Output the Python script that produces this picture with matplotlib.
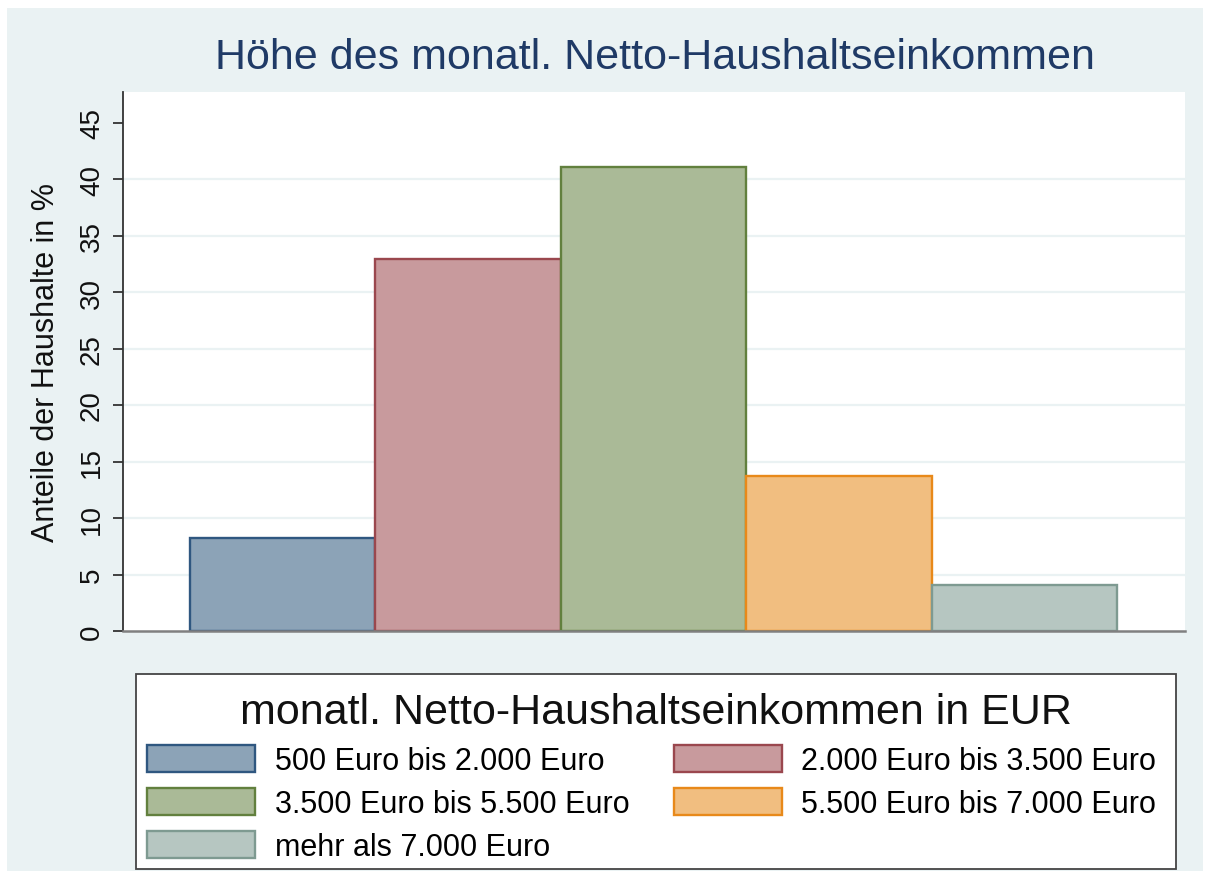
import matplotlib
matplotlib.use('Agg')
import matplotlib.pyplot as plt
from matplotlib.patches import Rectangle, Patch

plt.rcParams['font.family'] = ['Liberation Sans', 'DejaVu Sans']

# ── Data ──────────────────────────────────────────────────────────────────────
categories = [
    "500 Euro bis 2.000 Euro",
    "2.000 Euro bis 3.500 Euro",
    "3.500 Euro bis 5.500 Euro",
    "5.500 Euro bis 7.000 Euro",
    "mehr als 7.000 Euro",
]
shares = [8.2, 32.9, 41.1, 13.7, 4.1]   # Anteile der Haushalte in %
y_ticks = [0, 5, 10, 15, 20, 25, 30, 35, 40, 45]

# Stata s2color palette: edges full colour, fills at 50 % intensity
edge_colors = ['#2F5780', '#9A474E', '#62803E', '#E8891A', '#7E9A91']
fill_colors = ['#8CA3B7', '#C89A9D', '#AABA97', '#F1BE80', '#B6C6C1']
BG = '#EAF2F3'

W, H = 1206, 878
fig = plt.figure(figsize=(W / 100, H / 100), dpi=100, facecolor='white')
fig.patches.append(Rectangle((7 / W, 6 / H), 1196 / W, 863 / H,
                             transform=fig.transFigure, facecolor=BG,
                             edgecolor='none', zorder=-5))

ax = fig.add_axes([123 / W, 1 - 632 / H, 1062 / W, 539 / H])
ax.set_facecolor('white')

xs = list(range(len(shares)))
ax.bar(xs, shares, width=1.0, color=fill_colors, edgecolor=edge_colors,
       linewidth=1.7, zorder=3)

# grid lines (Stata leaves out the extreme ticks)
for yv in y_ticks[1:-1]:
    ax.axhline(yv, color=BG, lw=1.6, zorder=1)

ax.set_xlim(-0.86, 4.865)
ax.set_ylim(0, 47.7)
ax.set_xticks([])
ax.set_yticks(y_ticks)
ax.set_yticklabels([str(v) for v in y_ticks], rotation=90, va='center',
                   fontsize=20, color='#111111')
ax.tick_params(axis='y', length=7, width=1.3, color='#333333', pad=6)

for s in ('top', 'right'):
    ax.spines[s].set_visible(False)
ax.spines['left'].set_color('#333333')
ax.spines['left'].set_linewidth(1.3)
ax.spines['bottom'].set_color('#808080')
ax.spines['bottom'].set_linewidth(1.8)
ax.spines['bottom'].set_zorder(4)

fig.text(46 / W, 1 - 363 / H, 'Anteile der Haushalte in %', rotation=90,
         ha='center', va='center', fontsize=22, color='#111111')
fig.text(655 / W, 1 - 58 / H, 'Höhe des monatl. Netto-Haushaltseinkommen',
         ha='center', va='center', fontsize=31, color='#1F3A66')

# legend box drawn by hand, entries via fig.legend (row-wise order)
fig.patches.append(Rectangle((136 / W, 1 - 870 / H), 1040 / W, 195 / H,
                             transform=fig.transFigure, facecolor='white',
                             edgecolor='#444444', linewidth=1.3, zorder=1))
fig.text(656 / W, 1 - 713 / H, 'monatl. Netto-Haushaltseinkommen in EUR',
         ha='center', va='center', fontsize=31, color='#111111', zorder=2)

handles = [Patch(facecolor=f, edgecolor=e, linewidth=1.7)
           for f, e in zip(fill_colors, edge_colors)]
order = [0, 2, 4, 1, 3]
leg = fig.legend([handles[i] for i in order], [categories[i] for i in order],
                 ncol=2, loc='upper left',
                 bbox_to_anchor=(147 / W, 1 - 746 / H),
                 fontsize=22, handlelength=3.53, handleheight=1.0,
                 handletextpad=0.65, columnspacing=1.45, labelspacing=0.38,
                 borderpad=0, borderaxespad=0, frameon=False)
leg.set_zorder(3)

fig.savefig('out.png', dpi=100, facecolor='white')
